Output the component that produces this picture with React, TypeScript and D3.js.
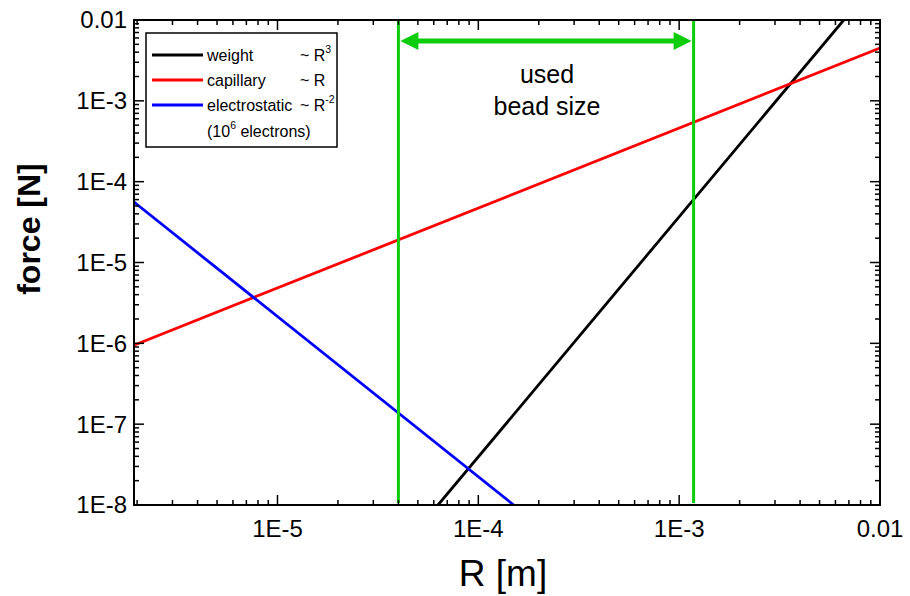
import * as d3 from 'd3'

const W = 910
const H = 596
const PLOT = { left: 134, right: 880, top: 20, bottom: 505 }
const FONT = '"Liberation Sans", Arial, sans-serif'

// axis ticks / labels
const xTicks = [1e-5, 1e-4, 1e-3, 1e-2]
const xTickLabels = ['1E-5', '1E-4', '1E-3', '0.01']
const yTicks = [1e-8, 1e-7, 1e-6, 1e-5, 1e-4, 1e-3, 1e-2]
const yTickLabels = ['1E-8', '1E-7', '1E-6', '1E-5', '1E-4', '1E-3', '0.01']

// series, end points (straight lines on log-log)
const weightR = [6.3e-5, 6.6e-3]
const weightF = [1e-8, 1e-2]
const capillaryR = [1.93e-6, 1e-2]
const capillaryF = [9.5e-7, 4.5e-3]
const electroR = [1.93e-6, 1.5e-4]
const electroF = [5.6e-5, 1e-8]

// used bead size range
const beadR = [4.0e-5, 1.18e-3]
const arrowF = 5.5e-3

const GREEN = '#0ccc0c'

const series = [
  { name: 'weight', R: weightR, F: weightF, color: '#000000', law: '~ R', exp: '3' },
  { name: 'capillary', R: capillaryR, F: capillaryF, color: '#ff0000', law: '~ R', exp: '' },
  { name: 'electrostatic', R: electroR, F: electroF, color: '#0000ff', law: '~ R', exp: '-2' },
]

export default function App() {
  const x = d3.scaleLog().domain([1.93e-6, 1e-2]).range([PLOT.left, PLOT.right])
  const y = d3.scaleLog().domain([1e-8, 1e-2]).range([PLOT.bottom, PLOT.top])

  const line = d3.line<[number, number]>().x(d => x(d[0])).y(d => y(d[1]))

  // minor ticks 2..9 per decade
  const minorX: number[] = []
  for (let e = -6; e <= -3; e++) for (let m = 2; m <= 9; m++) {
    const v = m * Math.pow(10, e)
    if (v > 1.93e-6 && v < 1e-2) minorX.push(v)
  }
  const minorY: number[] = []
  for (let e = -8; e <= -3; e++) for (let m = 2; m <= 9; m++) minorY.push(m * Math.pow(10, e))

  const ay = y(arrowF)
  const ax1 = x(beadR[0]) + 2
  const ax2 = x(beadR[1]) - 2
  const headL = 18
  const headH = 9

  return (
    <svg width={W} height={H} style={{ position: 'absolute', left: 0, top: 0, background: '#fff' }} fontFamily={FONT}>
      <defs>
        <clipPath id="plot">
          <rect x={PLOT.left} y={PLOT.top} width={PLOT.right - PLOT.left} height={PLOT.bottom - PLOT.top} />
        </clipPath>
      </defs>

      {/* data lines */}
      <g clipPath="url(#plot)">
        {series.map(s => (
          <path key={s.name} d={line(s.R.map((r, i) => [r, s.F[i]] as [number, number])) || ''}
            fill="none" stroke={s.color} strokeWidth={2.8} />
        ))}
        {beadR.map((r, i) => (
          <line key={i} x1={x(r)} x2={x(r)} y1={y(1e-2)} y2={y(1e-8) - 2} stroke={GREEN} strokeWidth={3} />
        ))}
      </g>

      {/* double arrow */}
      <line x1={ax1 + headL - 2} x2={ax2 - headL + 2} y1={ay} y2={ay} stroke={GREEN} strokeWidth={5} />
      <path d={`M${ax1},${ay} L${ax1 + headL},${ay - headH} L${ax1 + headL},${ay + headH} Z`} fill={GREEN} />
      <path d={`M${ax2},${ay} L${ax2 - headL},${ay - headH} L${ax2 - headL},${ay + headH} Z`} fill={GREEN} />
      <text x={547} y={83} fontSize={25} textAnchor="middle">used</text>
      <text x={547} y={115} fontSize={25} textAnchor="middle">bead size</text>

      {/* frame */}
      <rect x={PLOT.left} y={PLOT.top} width={PLOT.right - PLOT.left} height={PLOT.bottom - PLOT.top}
        fill="none" stroke="#000" strokeWidth={2} />

      {/* ticks on all four sides, pointing inward */}
      <g stroke="#000" strokeWidth={1.5}>
        {xTicks.filter(v => x(v) < PLOT.right - 1).map(v => (
          <g key={'xM' + v}>
            <line x1={x(v)} x2={x(v)} y1={PLOT.bottom} y2={PLOT.bottom - 10} />
            <line x1={x(v)} x2={x(v)} y1={PLOT.top} y2={PLOT.top + 10} />
          </g>
        ))}
        {minorX.map(v => (
          <g key={'xm' + v}>
            <line x1={x(v)} x2={x(v)} y1={PLOT.bottom} y2={PLOT.bottom - 5} />
            <line x1={x(v)} x2={x(v)} y1={PLOT.top} y2={PLOT.top + 5} />
          </g>
        ))}
        {yTicks.map(v => (
          <g key={'yM' + v}>
            <line x1={PLOT.left} x2={PLOT.left + 10} y1={y(v)} y2={y(v)} />
            <line x1={PLOT.right} x2={PLOT.right - 10} y1={y(v)} y2={y(v)} />
          </g>
        ))}
        {minorY.map(v => (
          <g key={'ym' + v}>
            <line x1={PLOT.left} x2={PLOT.left + 5} y1={y(v)} y2={y(v)} />
            <line x1={PLOT.right} x2={PLOT.right - 5} y1={y(v)} y2={y(v)} />
          </g>
        ))}
      </g>

      {/* tick labels */}
      {xTicks.map((v, i) => (
        <text key={'xl' + v} x={x(v)} y={537} fontSize={24} textAnchor="middle">{xTickLabels[i]}</text>
      ))}
      {yTicks.map((v, i) => (
        <text key={'yl' + v} x={127} y={y(v)} dy="0.35em" fontSize={24} textAnchor="end">{yTickLabels[i]}</text>
      ))}

      {/* axis titles */}
      <text x={503} y={586} fontSize={37} textAnchor="middle">R [m]</text>
      <text transform="translate(40,229) rotate(-90)" fontSize={32} fontWeight="bold" textAnchor="middle">force [N]</text>

      {/* legend */}
      <rect x={146} y={33} width={191} height={114} fill="#fff" stroke="#000" strokeWidth={1.5} />
      {series.map((s, i) => {
        const ly = [55, 80, 105][i]
        return (
          <g key={'lg' + s.name}>
            <line x1={152} x2={203} y1={ly} y2={ly} stroke={s.color} strokeWidth={3} />
            <text x={207} y={ly + 6} fontSize={16}>{s.name}</text>
            <text x={300} y={ly + 6} fontSize={16}>
              {s.law}
              {s.exp && <tspan dy={-8} fontSize={10.5}>{s.exp}</tspan>}
            </text>
          </g>
        )
      })}
      <text x={207} y={137} fontSize={16}>
        (10<tspan dy={-8} fontSize={10.5}>6</tspan><tspan dy={8}> electrons)</tspan>
      </text>
    </svg>
  )
}
